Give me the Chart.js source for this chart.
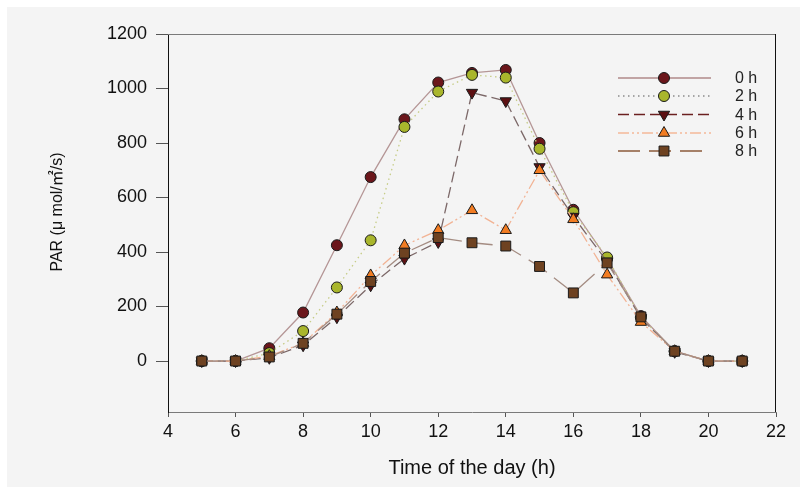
<!DOCTYPE html>
<html>
<head>
<meta charset="utf-8">
<script src="https://cdn.jsdelivr.net/npm/chart.js@4.4.1/dist/chart.umd.min.js"></script>
<style>
html,body{margin:0;padding:0;background:#f4f4f4;}
#wrap{width:800px;height:487px;position:relative;}
</style>
</head>
<body>
<div id="wrap"><canvas id="c" width="800" height="487"></canvas></div>
<script>
const hours = [5,6,7,8,9,10,11,12,13,14,15,16,17,18,19,20,21];
const seriesLabels = ['0 h','2 h','4 h','6 h','8 h'];
const par0h = [0,0,47,178,425,675,887,1022,1057,1068,800,555,375,165,36,0,0];
const par2h = [0,0,29,110,270,443,859,989,1050,1040,779,546,380,160,36,0,0];
const par4h = [0,0,12,58,161,278,376,437,985,954,712,530,365,158,34,0,0];
const par6h = [0,0,18,66,178,314,424,480,553,480,700,520,317,143,36,0,0];
const par8h = [0,0,15,65,172,292,396,453,434,422,347,250,360,162,36,0,0];
const xTicks = [4,6,8,10,12,14,16,18,20,22];
const yTicks = [0,200,400,600,800,1000,1200];
const xTitle = 'Time of the day (h)';
const yTitle = 'PAR (μ mol/㎡/s)';

const FONT = '"Liberation Sans", Arial, sans-serif';

const styles = [
  {line:'#b59696', dash:[], fill:'#6b161b', shape:'circle', rot:0, r:5.5, legendLine:'#b08a8a'},
  {line:'#c6cc86', dash:[1.5,3.5], fill:'#a9b62c', shape:'circle', rot:0, r:5.5, legendLine:'#8a8a8a'},
  {line:'#7c6868', dash:[11,5], fill:'#5c1012', shape:'triangle', rot:180, r:6.5, legendLine:'#6b2020'},
  {line:'#f2b394', dash:[11,3,2,3,2,3], fill:'#f27c22', shape:'triangle', rot:0, r:6.5, legendLine:'#f4b898'},
  {line:'#a48c82', dash:[22,9], fill:'#6e4221', shape:'rect', rot:0, r:7, legendLine:'#8a5a3a'}
];
const allData = [par0h, par2h, par4h, par6h, par8h];

const datasets = allData.map((vals, i) => ({
  label: seriesLabels[i],
  data: hours.map((h, j) => ({x: h, y: vals[j]})),
  borderColor: styles[i].line,
  borderWidth: 1.3,
  borderDash: styles[i].dash,
  backgroundColor: styles[i].fill,
  pointBackgroundColor: styles[i].fill,
  pointBorderColor: '#1a1a1a',
  pointBorderWidth: 1,
  pointStyle: styles[i].shape,
  pointRotation: styles[i].rot,
  pointRadius: styles[i].r,
  pointHoverRadius: styles[i].r,
  tension: 0,
  fill: false,
  order: 5 - i
}));

const bgPlugin = {
  id: 'bg',
  beforeDraw(chart) {
    const ctx = chart.ctx;
    ctx.save();
    ctx.fillStyle = '#ffffff';
    ctx.fillRect(0, 0, chart.width, chart.height);
    ctx.fillStyle = '#f4f4f4';
    ctx.fillRect(7, 7, chart.width - 7, chart.height - 7);
    ctx.restore();
  }
};

const framePlugin = {
  id: 'frame',
  afterDraw(chart) {
    const {ctx, chartArea: a} = chart;
    ctx.save();
    ctx.lineWidth = 1;
    ctx.strokeStyle = '#7a7a7a';
    ctx.beginPath();
    ctx.moveTo(a.left, a.top + 0.5);
    ctx.lineTo(a.right, a.top + 0.5);
    ctx.stroke();
    ctx.strokeStyle = '#111111';
    ctx.beginPath();
    ctx.moveTo(a.right - 0.5, a.top);
    ctx.lineTo(a.right - 0.5, a.bottom);
    ctx.stroke();
    // y axis title
    ctx.save();
    ctx.translate(58, 212);
    ctx.rotate(-Math.PI / 2);
    ctx.fillStyle = '#111111';
    ctx.font = '16px "Liberation Sans", Arial, "Noto Sans CJK SC", sans-serif';
    ctx.textAlign = 'center';
    ctx.textBaseline = 'middle';
    ctx.fillText(yTitle, 0, 0);
    ctx.restore();
    // legend
    const x0 = 618, x1 = 711, xm = 664, xt = 735;
    const rowY = [78, 96, 114.5, 133, 151];
    chart.data.datasets.forEach((ds, i) => {
      const y = rowY[i];
      ctx.save();
      ctx.strokeStyle = styles[i].legendLine;
      ctx.lineWidth = 1.5;
      ctx.setLineDash(styles[i].dash);
      ctx.beginPath();
      ctx.moveTo(x0, y);
      ctx.lineTo(x1, y);
      ctx.stroke();
      ctx.restore();
      ctx.save();
      ctx.fillStyle = styles[i].fill;
      ctx.strokeStyle = '#1a1a1a';
      ctx.lineWidth = 1;
      Chart.helpers.drawPoint(ctx, {pointStyle: styles[i].shape, rotation: styles[i].rot, radius: styles[i].r, borderWidth: 1}, xm, y);
      ctx.restore();
      ctx.save();
      ctx.fillStyle = '#222222';
      ctx.font = '16px ' + FONT;
      ctx.textBaseline = 'middle';
      ctx.textAlign = 'left';
      ctx.fillText(ds.label, xt, y + 1);
      ctx.restore();
    });
    ctx.restore();
  }
};

new Chart(document.getElementById('c'), {
  type: 'line',
  data: {datasets},
  plugins: [bgPlugin, framePlugin],
  options: {
    responsive: false,
    animation: false,
    devicePixelRatio: 1,
    layout: {padding: {top: 34, right: 24, bottom: 0, left: 0}},
    plugins: {legend: {display: false}, tooltip: {enabled: false}},
    scales: {
      x: {
        type: 'linear',
        min: 4, max: 22,
        afterBuildTicks: s => { s.ticks = xTicks.map(v => ({value: v})); },
        afterFit: s => { s.height = 75; },
        border: {display: true, color: '#7a7a7a', width: 1},
        grid: {display: true, drawOnChartArea: false, drawTicks: true, tickLength: 5, color: '#555555'},
        ticks: {color: '#111111', padding: 4, maxRotation: 0, autoSkip: false,
          callback: v => String(v),
          font: {family: FONT, size: 18}},
        title: {display: true, text: xTitle, color: '#111111',
          font: {family: FONT, size: 20},
          padding: {top: 0, bottom: 7}}
      },
      y: {
        type: 'linear',
        min: -187, max: 1200,
        afterBuildTicks: s => { s.ticks = yTicks.map(v => ({value: v})); },
        afterFit: s => { s.width = 168; },
        border: {display: true, color: '#111111', width: 1},
        grid: {display: true, drawOnChartArea: false, drawTicks: true, tickLength: 12, color: '#555555'},
        ticks: {color: '#111111', padding: 9, autoSkip: false,
          callback: v => String(v),
          font: {family: FONT, size: 18}},
        title: {display: false}
      }
    }
  }
});
</script>
</body>
</html>
